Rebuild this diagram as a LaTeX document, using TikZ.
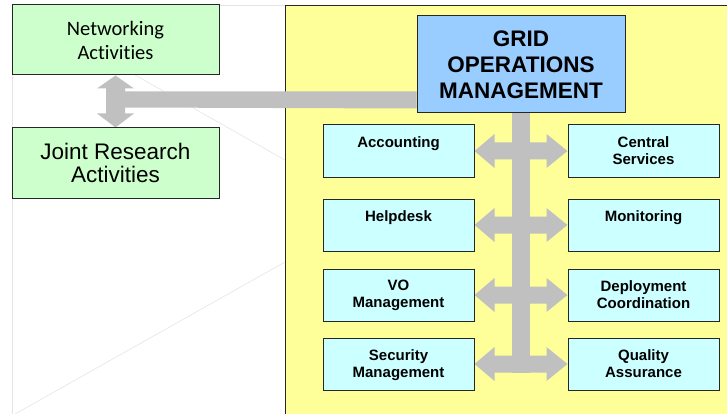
\documentclass[tikz,border=0pt]{standalone}
\usepackage{fontspec}
\setmainfont{Liberation Sans}
\newfontfamily\netfont[Ligatures=NoCommon]{Carlito}
\usetikzlibrary{calc}
\definecolor{gfill}{HTML}{CCFFCC}
\definecolor{cfill}{HTML}{CCFFFF}
\definecolor{bfill}{HTML}{99CCFF}
\definecolor{yfill}{HTML}{FFFF99}
\definecolor{conncol}{HTML}{C0C0C0}
\definecolor{faint}{HTML}{E4E4E4}
\pgfdeclarelayer{bg}
\pgfdeclarelayer{arr}
\pgfsetlayers{bg,arr,main}
\begin{document}
\begin{tikzpicture}[x=1pt,y=-1pt,
  box/.style={draw=black!85, line width=1pt, inner sep=0pt, align=center},
  greenbox/.style={box, fill=gfill, minimum width=207, minimum height=70},
  sbox/.style={box, fill=cfill, minimum width=151, minimum height=52},
  stxt/.style={anchor=north, yshift=-11.5pt, inner sep=0pt, align=center,
               font=\bfseries\fontsize{15}{17}\selectfont},
  conn/.style={fill=conncol},
  faintline/.style={draw=faint, line width=0.6pt}]
\useasboundingbox (0,0) rectangle (727,414);

% faint background lines
\begin{pgfonlayer}{bg}
\draw[faintline] (219,5) -- (285,5);
\draw[faintline] (12,75) -- (12,128);
\draw[faintline] (12,198) -- (12,414);
\draw[faintline] (135,75) -- (285,160);
\draw[faintline] (285,262) -- (15,414);
\draw[fill=yfill, draw=black!85, line width=1pt] (285,6) rectangle (760,440);
\end{pgfonlayer}

% nodes
\node[greenbox, font=\netfont\fontsize{20.5}{24}\selectfont] (net) at (115.5,40) {Networking\\Activities};
\node[greenbox, font=\fontsize{22.5}{23.5}\selectfont] (jra) at (115.5,163) {Joint Research\\Activities};
\node[box, fill=bfill, minimum width=208, minimum height=97,
      font=\bfseries\fontsize{22.5}{26}\selectfont] (grid) at (521,64.5) {GRID\\OPERATIONS\\MANAGEMENT};

\node[sbox, label={[stxt]north:Accounting}] (acc) at (398.5,151) {};
\node[sbox, label={[stxt]north:Central\\Services}] (cs) at (643.5,151) {};
\node[sbox, label={[stxt]north:Helpdesk}] (hd) at (398.5,225) {};
\node[sbox, label={[stxt]north:Monitoring}] (mon) at (643.5,225) {};
\node[sbox, label={[stxt]north:VO\\Management}] (vo) at (398.5,295) {};
\node[sbox, label={[stxt]north:Deployment\\Coordination}] (dc) at (643.5,295) {};
\node[sbox, label={[stxt]north:Security\\Management}] (sm) at (398.5,364) {};
\node[sbox, label={[stxt]north:Quality\\Assurance}] (qa) at (643.5,364) {};

% connectors
\begin{pgfonlayer}{arr}
% trunk
\fill[conn] ($(grid.south)+(-9,0)$) rectangle ($(sm.east)!0.5!(qa.west)+(9,8.5)$);
% horizontal double arrows
\foreach \a/\b in {acc/cs, hd/mon, vo/dc, sm/qa}{
  \fill[conn] (\a.east) -- ++(20,-17) -- ++(0,8.5) -- ($(\b.west)+(-21,-8.5)$)
     -- ++(0,-8.5) -- (\b.west) -- ++(-21,17) -- ++(0,-8.5)
     -- ($(\a.east)+(20,8.5)$) -- ++(0,8.5) -- cycle;
}
% vertical double arrow with bar to GRID
\fill[conn] (net.south) -- ++(18.5,13) -- ++(-9,0)
   -- ($(net.south)+(9.5,16)$) -- ($(grid.south west)+(0,-22)$)
   -- ($(grid.south west)+(0,-5)$) -- ($(jra.north)+(9.5,-20)$)
   -- ($(jra.north)+(9.5,-14)$) -- ++(9,0) -- (jra.north)
   -- ++(-18.5,-14) -- ++(9,0) -- ($(net.south)+(-9.5,13)$)
   -- ++(-9,0) -- cycle;
\end{pgfonlayer}
\end{tikzpicture}
\end{document}
